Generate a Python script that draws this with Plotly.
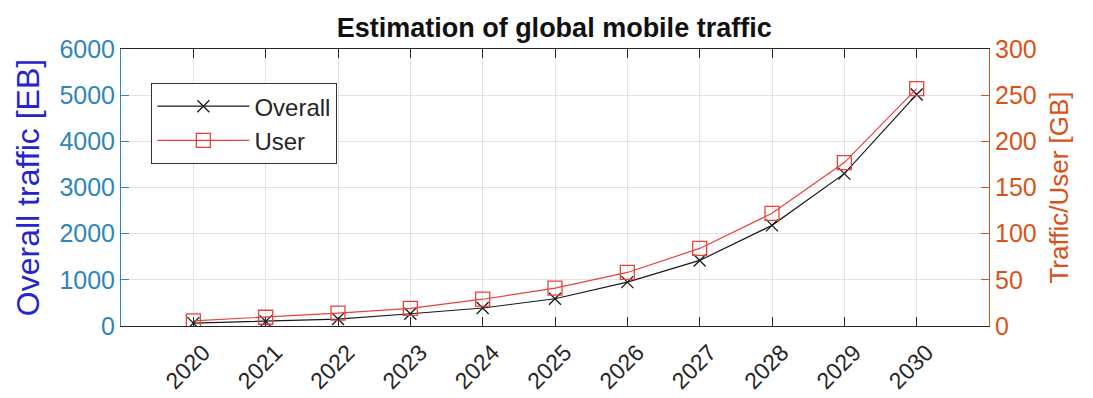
import plotly.graph_objects as go

# Estimated global mobile traffic, 2020-2030
years = [2020, 2021, 2022, 2023, 2024, 2025, 2026, 2027, 2028, 2029, 2030]
overall_eb = [62, 100, 150, 265, 390, 590, 950, 1420, 2180, 3300, 5016]
per_user_gb = [5.5, 9.5, 14, 19, 29, 41, 58, 84, 122, 177, 257]

left_ticks = [0, 1000, 2000, 3000, 4000, 5000, 6000]
right_ticks = [0, 50, 100, 150, 200, 250, 300]

FONT = "Liberation Sans, Arial, Helvetica, sans-serif"
BLUE_TICK = "#2f86b8"
BLUE_TITLE = "#2424d0"
ORANGE = "#d95319"
GRID = "#e3e3e3"

fig = go.Figure()

fig.add_trace(go.Scatter(
    x=years, y=overall_eb, name="Overall", mode="lines+markers",
    line=dict(color="#1a1a1a", width=1.2),
    marker=dict(symbol="x-thin-open", size=12, line=dict(color="#1a1a1a", width=1.3)),
    yaxis="y",
))
fig.add_trace(go.Scatter(
    x=years, y=per_user_gb, name="User", mode="lines+markers",
    line=dict(color="#e8413a", width=1.2),
    marker=dict(symbol="square-open", size=14, color="#e8413a", line=dict(width=1.3)),
    yaxis="y2",
))

fig.update_layout(
    width=1093, height=398,
    margin=dict(l=121, r=104, t=49, b=72),
    paper_bgcolor="white", plot_bgcolor="white",
    font=dict(family=FONT, size=24, color="#262626"),
    title=dict(text="<b>Estimation of global mobile traffic</b>", x=0.507, xanchor="center",
               y=0.93, yanchor="middle", font=dict(size=27, color="#111111")),
    showlegend=True,
    legend=dict(x=0.035, y=0.877, xanchor="left", yanchor="top",
                bgcolor="white", bordercolor="#333333", borderwidth=1,
                font=dict(size=24, color="#262626"), tracegroupgap=0,
                itemwidth=92),
    xaxis=dict(
        range=[2019, 2031], tickmode="array", tickvals=years,
        ticktext=[str(y) for y in years], tickangle=-45,
        ticklabelshift=10, ticklabelstandoff=3, automargin=False,
        showgrid=True, gridcolor=GRID, gridwidth=1,
        showline=True, linecolor="#262626", linewidth=1, mirror="ticks",
        ticks="inside", ticklen=9, tickcolor="#262626",
        tickfont=dict(size=23, color="#262626"), zeroline=False,
    ),
    yaxis=dict(
        range=[0, 6000], tickvals=left_ticks, automargin=False,
        showgrid=True, gridcolor=GRID, gridwidth=1,
        showline=True, linecolor=BLUE_TICK, linewidth=1,
        ticks="inside", ticklen=8, tickcolor=BLUE_TICK,
        tickfont=dict(size=25, color=BLUE_TICK), zeroline=False,
        title=dict(text="Overall traffic [EB]", font=dict(size=32, color=BLUE_TITLE), standoff=10),
    ),
    yaxis2=dict(
        range=[0, 300], tickvals=right_ticks, overlaying="y", side="right",
        automargin=False,
        showgrid=False, showline=True, linecolor=ORANGE, linewidth=1,
        ticks="inside", ticklen=8, tickcolor=ORANGE,
        tickfont=dict(size=25, color=ORANGE), zeroline=False,
        title=dict(text="Traffic/User [GB]", font=dict(size=26, color=ORANGE), standoff=14),
    ),
)

fig.write_html("out.html")
